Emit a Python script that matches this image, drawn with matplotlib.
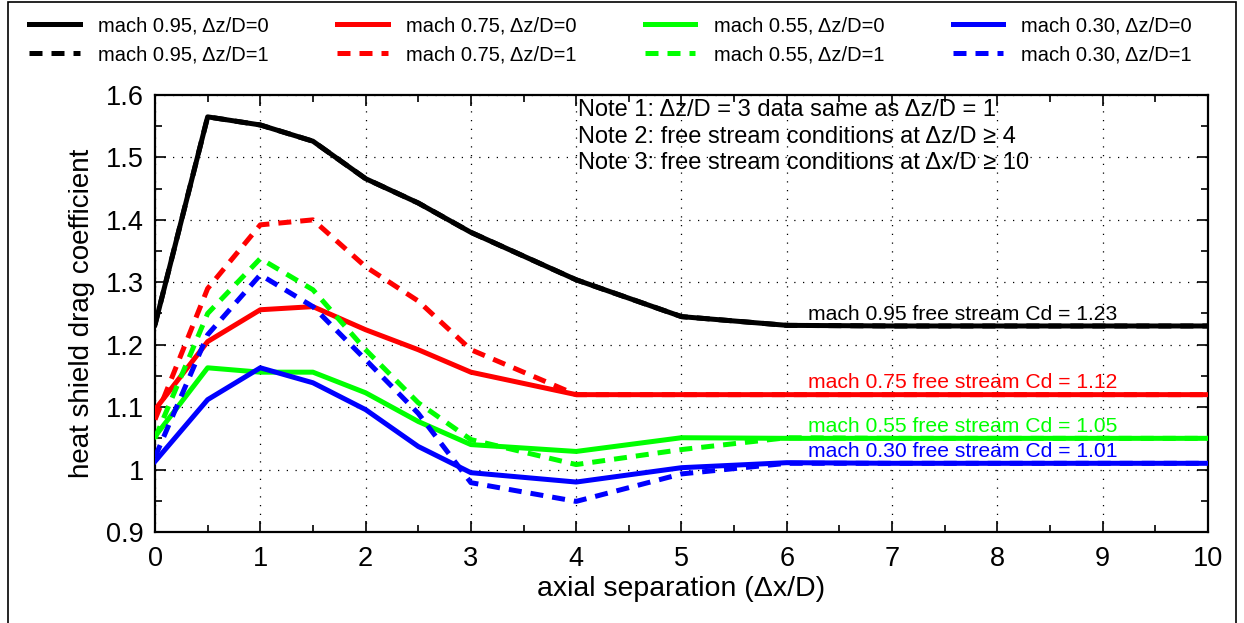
import matplotlib
matplotlib.use("Agg")
import matplotlib.pyplot as plt
from matplotlib.patches import Rectangle
from matplotlib.ticker import MultipleLocator, FuncFormatter

plt.rcParams['font.family'] = ['Liberation Sans', 'DejaVu Sans']

x = [0, 0.5, 1, 1.5, 2, 2.5, 3, 4, 5, 6, 7, 8, 9, 10]

m95_dz0 = [1.232, 1.565, 1.552, 1.526, 1.466, 1.427, 1.380, 1.304, 1.245, 1.231, 1.23, 1.23, 1.23, 1.23]
m75_dz0 = [1.096, 1.205, 1.256, 1.261, 1.224, 1.192, 1.156, 1.12, 1.12, 1.12, 1.12, 1.12, 1.12, 1.12]
m75_dz1 = [1.080, 1.290, 1.392, 1.400, 1.325, 1.270, 1.192, 1.12, 1.12, 1.12, 1.12, 1.12, 1.12, 1.12]
m55_dz0 = [1.053, 1.163, 1.156, 1.156, 1.123, 1.077, 1.040, 1.029, 1.051, 1.05, 1.05, 1.05, 1.05, 1.05]
m55_dz1 = [1.050, 1.250, 1.338, 1.288, 1.192, 1.107, 1.048, 1.008, 1.032, 1.051, 1.05, 1.05, 1.05, 1.05]
m30_dz0 = [1.013, 1.112, 1.163, 1.139, 1.096, 1.037, 0.995, 0.980, 1.003, 1.011, 1.01, 1.01, 1.01, 1.01]
m30_dz1 = [1.020, 1.216, 1.312, 1.261, 1.176, 1.090, 0.979, 0.949, 0.993, 1.010, 1.01, 1.01, 1.01, 1.01]

legend_labels = ['mach 0.95, \u0394z/D=0', 'mach 0.95, \u0394z/D=1',
                 'mach 0.75, \u0394z/D=0', 'mach 0.75, \u0394z/D=1',
                 'mach 0.55, \u0394z/D=0', 'mach 0.55, \u0394z/D=1',
                 'mach 0.30, \u0394z/D=0', 'mach 0.30, \u0394z/D=1']

freestream_labels = ['mach 0.95 free stream Cd = 1.23', 'mach 0.75 free stream Cd = 1.12',
                     'mach 0.55 free stream Cd = 1.05', 'mach 0.30 free stream Cd = 1.01']
freestream_vals = [1.23, 1.12, 1.05, 1.01]

notes = ['Note 1: \u0394z/D = 3 data same as \u0394z/D = 1',
         'Note 2: free stream conditions at \u0394z/D \u2265 4',
         'Note 3: free stream conditions at \u0394x/D \u2265 10']

black = '#000000'
red = '#ff0000'
green = '#00ff00'
blue = '#0000ff'
colors = [black, red, green, blue]

fig = plt.figure(figsize=(12.44, 6.23), dpi=100)
ax = fig.add_axes([0.1246, 0.1461, 0.8464, 0.7014])

lw = 3.6
dash = (0, (2.6, 1.8))

h_d95, = ax.plot(x, m95_dz0, color=black, lw=lw, linestyle=dash, zorder=2)
h_s95, = ax.plot(x, m95_dz0, color=black, lw=lw, zorder=3)
h_s75, = ax.plot(x, m75_dz0, color=red, lw=lw, zorder=3)
h_d75, = ax.plot(x, m75_dz1, color=red, lw=lw, linestyle=dash, zorder=3)
h_s55, = ax.plot(x, m55_dz0, color=green, lw=lw, zorder=3)
h_d55, = ax.plot(x, m55_dz1, color=green, lw=lw, linestyle=dash, zorder=3)
h_s30, = ax.plot(x, m30_dz0, color=blue, lw=lw, zorder=3)
h_d30, = ax.plot(x, m30_dz1, color=blue, lw=lw, linestyle=dash, zorder=3)

ax.set_xlim(0, 10)
ax.set_ylim(0.9, 1.6)
ax.xaxis.set_major_locator(MultipleLocator(1))
ax.xaxis.set_minor_locator(MultipleLocator(0.5))
ax.yaxis.set_major_locator(MultipleLocator(0.1))
ax.yaxis.set_minor_locator(MultipleLocator(0.05))
ax.yaxis.set_major_formatter(FuncFormatter(lambda v, p: '%g' % round(v, 2)))
ax.tick_params(which='both', direction='in', top=True, right=True, labelsize=19.5, width=1.2)
ax.tick_params(which='major', length=8)
ax.tick_params(which='minor', length=5)
ax.tick_params(axis='x', pad=10)
ax.tick_params(axis='y', pad=8)
for s in ax.spines.values():
    s.set_linewidth(1.6)
ax.grid(True, which='major', color='black', linestyle=(0, (1, 6)), linewidth=0.9)
ax.set_axisbelow(True)

ax.set_xlabel('axial separation (\u0394x/D)', fontsize=20.5, labelpad=3)
ax.set_ylabel('heat shield drag coefficient', fontsize=20, labelpad=8)

for lab, val, c in zip(freestream_labels, freestream_vals, colors):
    ax.text(6.2, val + 0.019, lab, color=c, fontsize=15.2, ha='left', va='center', zorder=4)

for i, n in enumerate(notes):
    ax.text(0.402, 0.965 - i * 0.0606, n, transform=ax.transAxes, fontsize=17,
            ha='left', va='center')

handles = [h_s95, h_d95, h_s75, h_d75, h_s55, h_d55, h_s30, h_d30]
leg = fig.legend(handles, legend_labels, loc='upper left', bbox_to_anchor=(0.009, 1.003),
                 ncol=4, frameon=False, fontsize=14.5, handlelength=2.5, handletextpad=0.9,
                 columnspacing=3.42, labelspacing=0.5)

fig.patches.append(Rectangle((0.0064, -0.02), 0.9872, 1.017, transform=fig.transFigure,
                             fill=False, edgecolor='black', linewidth=1.2, clip_on=False))

fig.savefig('out.png', dpi=100)
